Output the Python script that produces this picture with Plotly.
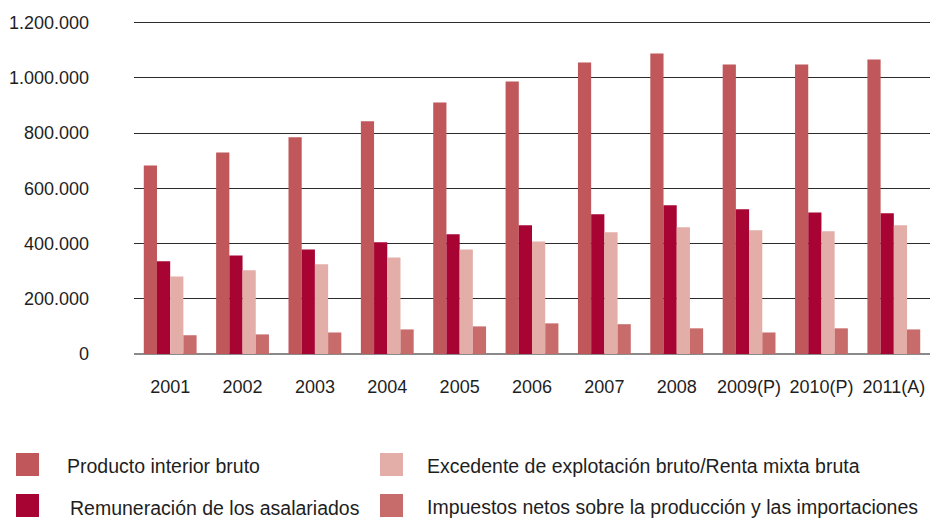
import plotly.graph_objects as go

years = ["2001", "2002", "2003", "2004", "2005", "2006", "2007", "2008",
         "2009(P)", "2010(P)", "2011(A)"]
pib = [683000, 730000, 785000, 843000, 911000, 987000, 1056000, 1089000,
       1049000, 1049000, 1067000]
remuneracion = [336000, 357000, 379000, 405000, 434000, 466000, 506000, 539000,
                524000, 513000, 510000]
excedente = [281000, 303000, 325000, 350000, 379000, 408000, 441000, 459000,
             448000, 445000, 466000]
impuestos = [68000, 71000, 78000, 89000, 100000, 111000, 108000, 93000,
             78000, 93000, 89000]

names = ["Producto interior bruto", "Remuneración de los asalariados",
         "Excedente de explotación bruto/Renta mixta bruta",
         "Impuestos netos sobre la producción y las importaciones"]
colors = ["#C0575A", "#A80433", "#E3ADA8", "#C86C6B"]
series = [pib, remuneracion, excedente, impuestos]
y_ticks = [0, 200000, 400000, 600000, 800000, 1000000, 1200000]

fig = go.Figure()
for name, vals, col in zip(names, series, colors):
    fig.add_trace(go.Bar(x=years, y=vals, name=name, marker_color=col,
                         marker_line_width=0, showlegend=False))

W, H = 930, 518
ml, mr, mt, mb = 134, 0, 20, 164

# custom legend (positions in pixels converted to paper coords)
def px(x):
    return (x - ml) / (W - ml - mr)

def py(y):
    return (H - mb - y) / (H - mt - mb)

legend_pos = [  # (marker x0, marker top, text x, text center y)
    (16, 453, 65, 466),
    (16, 494, 68, 508),
    (380, 453, 425, 466),
    (380, 494, 425, 507),
]
for (mx, my, tx, ty), name, col in zip(legend_pos, names, colors):
    fig.add_shape(type="rect", xref="paper", yref="paper",
                  x0=px(mx), x1=px(mx + 23), y0=py(my + 23), y1=py(my),
                  fillcolor=col, line_width=0)
    fig.add_annotation(xref="paper", yref="paper", x=px(tx), y=py(ty),
                       text=name, showarrow=False, xanchor="left",
                       yanchor="middle",
                       font=dict(size=19.5, color="#1e1e1e",
                                 family="Liberation Sans, Arial"))

fig.update_layout(
    width=W, height=H,
    margin=dict(l=ml, r=mr, t=mt, b=mb),
    paper_bgcolor="white", plot_bgcolor="white",
    barmode="group", bargap=0.27, bargroupgap=0,
    separators=",.",
    font=dict(family="Liberation Sans, Arial", size=18, color="#1e1e1e"),
)
fig.update_xaxes(showline=False, showgrid=False, ticks="",
                 ticklabelstandoff=20, tickfont=dict(size=18))
fig.update_yaxes(range=[0, 1210000], tickvals=y_ticks, tickformat=",d",
                 showgrid=True, gridcolor="#2b2b2b", gridwidth=1.2,
                 zeroline=True, zerolinecolor="#8a8a8a", zerolinewidth=2,
                 showline=False, ticks="", ticklabelstandoff=44,
                 tickfont=dict(size=18))

fig.write_html("out.html",
               config={"displayModeBar": False},
               post_script="document.body.style.margin='0';"
                           "document.body.style.overflow='hidden';")
